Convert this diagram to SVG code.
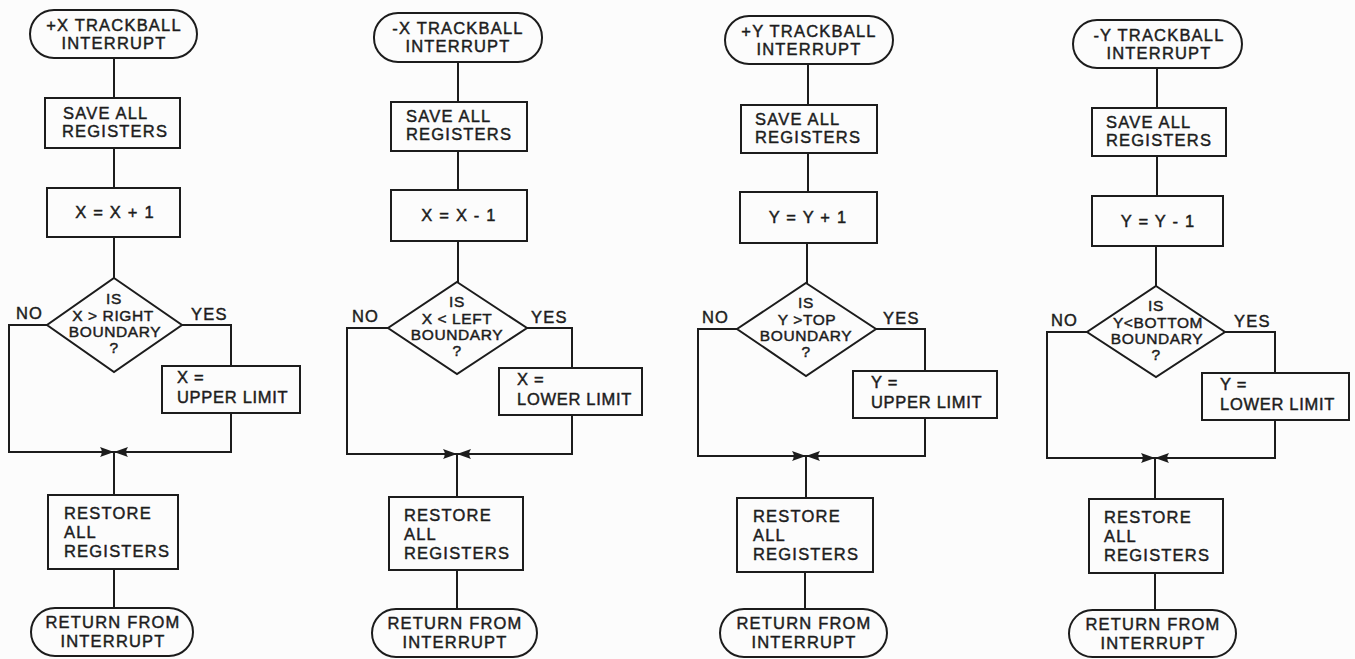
<svg xmlns="http://www.w3.org/2000/svg" width="1355" height="659" viewBox="0 0 1355 659">
<style>
.s{fill:none;stroke:#1c1c1c;stroke-width:2;stroke-linejoin:miter}
.c{fill:none;stroke:#1c1c1c;stroke-width:2}
text{font-family:"Liberation Sans",Arial,sans-serif;font-size:16.5px;letter-spacing:1.2px;fill:#1c1c1c;stroke:#1c1c1c;stroke-width:0.45px}
.m{text-anchor:middle}
.d{font-size:15.5px;letter-spacing:0.6px;text-anchor:middle}
.v{letter-spacing:0.7px}
</style>
<defs>
<marker id="arr" viewBox="0 0 14 10" refX="14" refY="5" markerWidth="14" markerHeight="10" markerUnits="userSpaceOnUse" orient="auto">
<path d="M0,0 L14,5 L0,10 Q3.5,5 0,0 z" fill="#1c1c1c"/>
</marker>
</defs>
<rect width="1355" height="659" fill="#fcfcfc"/>

<g id="connectors">
<!-- column 1 -->
<path class="c" d="M114,58 V98"/>
<path class="c" d="M114,148 V188"/>
<path class="c" d="M114,237 V278"/>
<path class="c" d="M47,325 H9 V452 H114" marker-end="url(#arr)"/>
<path class="c" d="M182,325 H231 V366"/>
<path class="c" d="M231,413 V452 H114" marker-end="url(#arr)"/>
<path class="c" d="M114,452 V495"/>
<path class="c" d="M114,569 V608"/>
<!-- column 2 -->
<path class="c" d="M458,62 V102"/>
<path class="c" d="M458,151 V190"/>
<path class="c" d="M458,241 V282"/>
<path class="c" d="M388,328 H347 V454 H457" marker-end="url(#arr)"/>
<path class="c" d="M527,328 H572 V368"/>
<path class="c" d="M572,415 V454 H457" marker-end="url(#arr)"/>
<path class="c" d="M457,454 V497"/>
<path class="c" d="M457,570 V609"/>
<!-- column 3 -->
<path class="c" d="M808,64 V105"/>
<path class="c" d="M808,153 V192"/>
<path class="c" d="M807,243 V283"/>
<path class="c" d="M737,329 H698 V456 H806" marker-end="url(#arr)"/>
<path class="c" d="M876,329 H925 V371"/>
<path class="c" d="M925,418 V456 H806" marker-end="url(#arr)"/>
<path class="c" d="M806,456 V498"/>
<path class="c" d="M805,572 V610"/>
<!-- column 4 -->
<path class="c" d="M1157,68 V108"/>
<path class="c" d="M1157,156 V196"/>
<path class="c" d="M1156,246 V286"/>
<path class="c" d="M1087,332 H1047 V458 H1155" marker-end="url(#arr)"/>
<path class="c" d="M1225,332 H1275 V373"/>
<path class="c" d="M1275,420 V458 H1155" marker-end="url(#arr)"/>
<path class="c" d="M1155,458 V499"/>
<path class="c" d="M1155,573 V611"/>
</g>

<!-- column 1 nodes -->
<g id="c1-start"><rect class="s" x="30" y="10" width="167" height="48" rx="24"/><text class="m" x="114" y="31">+X TRACKBALL</text><text class="m" x="114" y="49">INTERRUPT</text></g>
<g id="c1-save"><rect class="s" x="45" y="98" width="135" height="50"/><text x="63" y="119">SAVE ALL</text><text x="62" y="137">REGISTERS</text></g>
<g id="c1-op"><rect class="s" x="47" y="188" width="133" height="49"/><text class="m" x="115" y="218">X = X + 1</text></g>
<g id="c1-test"><polygon class="s" points="114,278 182,325 114,372 47,325"/><text class="d" x="114" y="304">IS</text><text class="d" x="113" y="321">X &gt; RIGHT</text><text class="d" x="115" y="337">BOUNDARY</text><text class="d" x="114" y="353">?</text></g>
<g id="c1-no"><text x="16" y="319">NO</text></g>
<g id="c1-yes"><text x="191" y="320">YES</text></g>
<g id="c1-set"><rect class="s" x="162" y="366" width="138" height="47"/><text class="v" x="177" y="383">X =</text><text class="v" x="177" y="403">UPPER LIMIT</text></g>
<g id="c1-restore"><rect class="s" x="48" y="495" width="130" height="74"/><text x="64" y="519">RESTORE</text><text x="64" y="538">ALL</text><text x="64" y="557">REGISTERS</text></g>
<g id="c1-end"><rect class="s" x="31" y="608" width="162" height="48" rx="24"/><text class="m" x="113" y="628">RETURN FROM</text><text class="m" x="113" y="647">INTERRUPT</text></g>

<!-- column 2 nodes -->
<g id="c2-start"><rect class="s" x="374" y="13" width="168" height="49" rx="24"/><text class="m" x="458" y="34">-X TRACKBALL</text><text class="m" x="458" y="52">INTERRUPT</text></g>
<g id="c2-save"><rect class="s" x="391" y="102" width="136" height="49"/><text x="406" y="122">SAVE ALL</text><text x="406" y="140">REGISTERS</text></g>
<g id="c2-op"><rect class="s" x="391" y="190" width="136" height="51"/><text class="m" x="459" y="221">X = X - 1</text></g>
<g id="c2-test"><polygon class="s" points="457,282 527,328 457,374 388,328"/><text class="d" x="457" y="307">IS</text><text class="d" x="457" y="324">X &lt; LEFT</text><text class="d" x="457" y="340">BOUNDARY</text><text class="d" x="457" y="356">?</text></g>
<g id="c2-no"><text x="352" y="322">NO</text></g>
<g id="c2-yes"><text x="531" y="323">YES</text></g>
<g id="c2-set"><rect class="s" x="499" y="368" width="143" height="47"/><text class="v" x="517" y="385">X =</text><text class="v" x="517" y="405">LOWER LIMIT</text></g>
<g id="c2-restore"><rect class="s" x="389" y="497" width="134" height="73"/><text x="404" y="521">RESTORE</text><text x="404" y="540">ALL</text><text x="404" y="559">REGISTERS</text></g>
<g id="c2-end"><rect class="s" x="372" y="609" width="165" height="48" rx="24"/><text class="m" x="455" y="629">RETURN FROM</text><text class="m" x="455" y="648">INTERRUPT</text></g>

<!-- column 3 nodes -->
<g id="c3-start"><rect class="s" x="725" y="16" width="168" height="48" rx="24"/><text class="m" x="809" y="37">+Y TRACKBALL</text><text class="m" x="809" y="55">INTERRUPT</text></g>
<g id="c3-save"><rect class="s" x="741" y="105" width="136" height="48"/><text x="755" y="125">SAVE ALL</text><text x="755" y="143">REGISTERS</text></g>
<g id="c3-op"><rect class="s" x="740" y="192" width="137" height="51"/><text class="m" x="808" y="223">Y = Y + 1</text></g>
<g id="c3-test"><polygon class="s" points="806,283 876,329 806,376 737,329"/><text class="d" x="806" y="308">IS</text><text class="d" x="807" y="325">Y &gt;TOP</text><text class="d" x="806" y="341">BOUNDARY</text><text class="d" x="806" y="357">?</text></g>
<g id="c3-no"><text x="702" y="323">NO</text></g>
<g id="c3-yes"><text x="883" y="324">YES</text></g>
<g id="c3-set"><rect class="s" x="853" y="371" width="144" height="47"/><text class="v" x="871" y="388">Y =</text><text class="v" x="871" y="408">UPPER LIMIT</text></g>
<g id="c3-restore"><rect class="s" x="737" y="498" width="136" height="74"/><text x="753" y="522">RESTORE</text><text x="753" y="541">ALL</text><text x="753" y="560">REGISTERS</text></g>
<g id="c3-end"><rect class="s" x="720" y="609" width="167" height="48" rx="24"/><text class="m" x="804" y="629">RETURN FROM</text><text class="m" x="804" y="648">INTERRUPT</text></g>

<!-- column 4 nodes -->
<g id="c4-start"><rect class="s" x="1073" y="20" width="169" height="48" rx="24"/><text class="m" x="1159" y="41">-Y TRACKBALL</text><text class="m" x="1159" y="59">INTERRUPT</text></g>
<g id="c4-save"><rect class="s" x="1092" y="108" width="134" height="48"/><text x="1106" y="128">SAVE ALL</text><text x="1106" y="146">REGISTERS</text></g>
<g id="c4-op"><rect class="s" x="1092" y="196" width="131" height="50"/><text class="m" x="1158" y="227">Y = Y - 1</text></g>
<g id="c4-test"><polygon class="s" points="1156,286 1225,332 1156,377 1087,332"/><text class="d" x="1156" y="311">IS</text><text class="d" x="1158" y="328">Y&lt;BOTTOM</text><text class="d" x="1157" y="344">BOUNDARY</text><text class="d" x="1156" y="360">?</text></g>
<g id="c4-no"><text x="1051" y="326">NO</text></g>
<g id="c4-yes"><text x="1234" y="327">YES</text></g>
<g id="c4-set"><rect class="s" x="1202" y="373" width="147" height="47"/><text class="v" x="1220" y="390">Y =</text><text class="v" x="1220" y="410">LOWER LIMIT</text></g>
<g id="c4-restore"><rect class="s" x="1089" y="499" width="134" height="74"/><text x="1104" y="523">RESTORE</text><text x="1104" y="542">ALL</text><text x="1104" y="561">REGISTERS</text></g>
<g id="c4-end"><rect class="s" x="1069" y="610" width="167" height="47" rx="23.5"/><text class="m" x="1153" y="630">RETURN FROM</text><text class="m" x="1153" y="649">INTERRUPT</text></g>
</svg>
